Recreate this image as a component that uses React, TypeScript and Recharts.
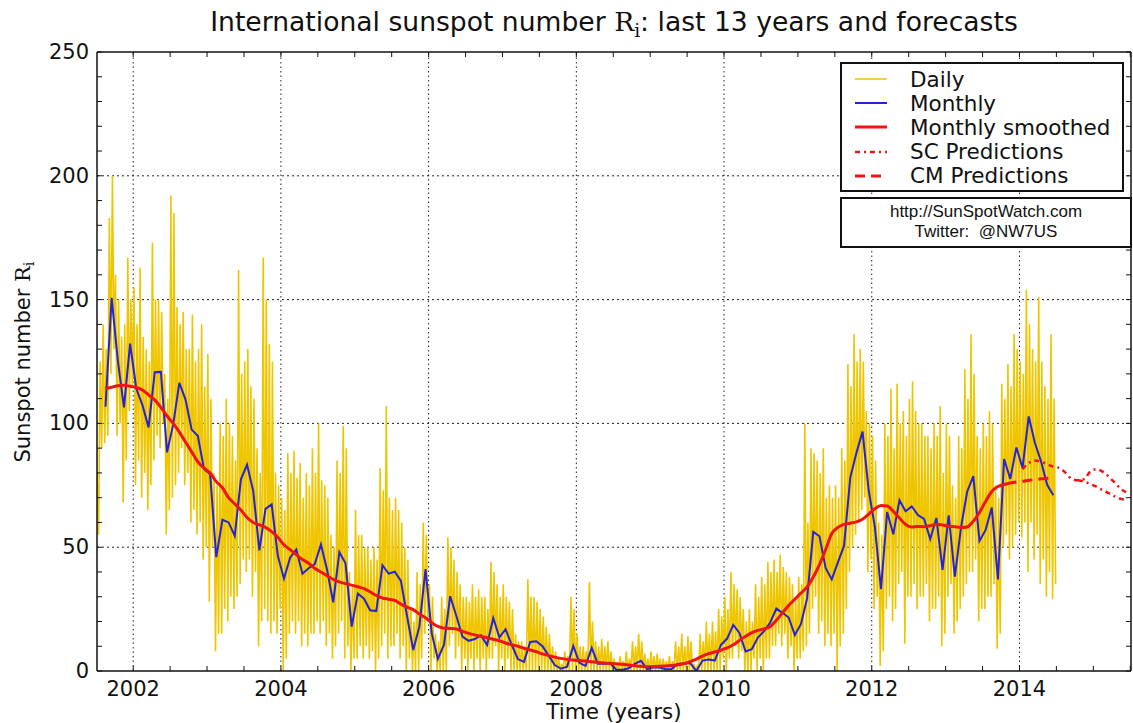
import React from "react";
import { LineChart, Line, XAxis, YAxis, ReferenceLine } from "recharts";

const WIDTH = 1133;
const HEIGHT = 723;
const PLOT_TOP = 52;
const PLOT_LEFT = 97;
const PLOT_RIGHT = 1131;
const PLOT_BOTTOM = 671;

const FONT = "'DejaVu Sans', sans-serif";
const SERIF = "'DejaVu Serif', serif";

const X_DOMAIN: [number, number] = [2001.51, 2015.51];
const Y_DOMAIN: [number, number] = [0, 250];
const X_TICKS = [
  2002, 2002.5, 2003, 2003.5, 2004, 2004.5, 2005, 2005.5, 2006, 2006.5, 2007, 2007.5, 2008, 2008.5,
  2009, 2009.5, 2010, 2010.5, 2011, 2011.5, 2012, 2012.5, 2013, 2013.5, 2014, 2014.5, 2015, 2015.5,
];
const X_LABELS = [2002, 2004, 2006, 2008, 2010, 2012, 2014];
const Y_TICKS = [0, 10, 20, 30, 40, 50, 60, 70, 80, 90, 100, 110, 120, 130, 140, 150, 160, 170, 180, 190, 200, 210, 220, 230, 240, 250];
const Y_LABELS = [0, 50, 100, 150, 200, 250];
const Y_GRID = [50, 100, 150, 200];

// daily readings, 4 per month (peaks and dips), first month noted per year
const daily2001 = [ // from Jul
  80, 55, 125, 90, 140, 92, 130, 95, 183, 120, 200, 130,
  160, 95, 150, 100, 135, 68, 140, 85, 167, 105, 150, 115,
];
const daily2002 = [
  155, 75, 140, 85, 163, 70, 135, 80, 130, 65, 125, 75,
  173, 85, 150, 95, 150, 90, 145, 100, 120, 55, 110, 65,
  192, 70, 185, 75, 147, 80, 140, 90, 145, 75, 130, 80,
  130, 60, 144, 65, 125, 55, 130, 60, 140, 45, 115, 50,
];
const daily2003 = [
  128, 28, 110, 50, 80, 8, 75, 15, 100, 15, 95, 25,
  110, 20, 100, 30, 95, 25, 85, 30, 162, 35, 120, 45,
  125, 40, 130, 45, 115, 30, 110, 40, 90, 10, 80, 20,
  167, 25, 150, 20, 132, 15, 125, 20, 80, 15, 75, 25,
];
const daily2004 = [
  70, 0, 65, 5, 88, 15, 80, 20, 89, 15, 78, 20,
  84, 10, 70, 15, 80, 10, 75, 15, 90, 15, 80, 20,
  100, 15, 77, 20, 75, 10, 70, 15, 55, 5, 50, 10,
  85, 15, 80, 20, 99, 5, 90, 10, 40, 0, 35, 5,
];
const daily2005 = [
  65, 5, 55, 10, 55, 5, 50, 10, 50, 5, 45, 8,
  50, 0, 45, 5, 82, 10, 73, 15, 107, 5, 70, 10,
  65, 10, 70, 15, 65, 5, 60, 10, 50, 0, 45, 5,
  25, 0, 20, 0, 40, 0, 35, 5, 60, 15, 55, 20,
];
const daily2006 = [
  35, 0, 30, 5, 15, 0, 12, 0, 30, 0, 25, 0,
  54, 10, 50, 15, 45, 5, 40, 10, 35, 0, 30, 5,
  30, 0, 28, 5, 35, 0, 30, 5, 33, 0, 30, 5,
  30, 0, 25, 5, 44, 5, 40, 10, 35, 0, 30, 5,
];
const daily2007 = [
  35, 0, 30, 5, 28, 0, 25, 0, 15, 0, 12, 0,
  12, 0, 10, 0, 37, 0, 30, 0, 30, 0, 28, 0,
  25, 0, 22, 0, 18, 0, 15, 0, 10, 0, 8, 0,
  5, 0, 3, 0, 8, 0, 6, 0, 30, 0, 25, 0,
];
const daily2008 = [
  15, 0, 10, 0, 10, 0, 8, 0, 36, 0, 20, 0,
  12, 0, 10, 0, 13, 0, 10, 0, 12, 0, 8, 0,
  5, 0, 3, 0, 6, 0, 4, 0, 8, 0, 5, 0,
  12, 0, 10, 0, 15, 0, 12, 0, 7, 0, 5, 0,
];
const daily2009 = [
  8, 0, 6, 0, 7, 0, 5, 0, 5, 0, 4, 0,
  6, 0, 4, 0, 12, 0, 10, 0, 15, 0, 10, 0,
  14, 0, 12, 0, 3, 0, 2, 0, 15, 0, 12, 0,
  20, 0, 15, 0, 20, 0, 16, 0, 25, 0, 22, 5,
];
const daily2010 = [
  30, 0, 25, 5, 40, 5, 35, 10, 33, 5, 30, 8,
  25, 0, 20, 0, 25, 0, 20, 5, 35, 0, 30, 5,
  38, 0, 35, 5, 44, 5, 40, 10, 45, 10, 40, 15,
  47, 10, 42, 15, 40, 5, 38, 10, 35, 0, 30, 5,
];
const daily2011 = [
  38, 5, 35, 8, 100, 10, 60, 15, 90, 25, 88, 30,
  85, 15, 80, 20, 90, 10, 70, 15, 75, 10, 70, 15,
  75, 0, 70, 10, 90, 15, 85, 25, 124, 40, 115, 50,
  136, 55, 125, 60, 130, 65, 125, 70, 105, 40, 100, 45,
];
const daily2012 = [
  95, 25, 85, 30, 60, 2, 55, 8, 100, 25, 95, 30,
  114, 20, 90, 25, 116, 35, 100, 40, 105, 11, 95, 30,
  110, 30, 117, 35, 105, 25, 100, 30, 100, 30, 95, 35,
  95, 20, 90, 25, 100, 25, 95, 30, 107, 10, 80, 15,
];
const daily2013 = [
  100, 30, 95, 35, 75, 15, 70, 20, 95, 25, 90, 30,
  122, 35, 110, 40, 136, 40, 120, 45, 95, 20, 90, 25,
  100, 25, 95, 30, 105, 30, 100, 35, 75, 9, 70, 15,
  116, 50, 110, 55, 124, 45, 115, 50, 136, 55, 130, 60,
];
const daily2014 = [ // to Jun
  125, 54, 120, 60, 154, 40, 140, 60, 130, 45, 125, 55,
  151, 35, 125, 45, 115, 30, 110, 40, 136, 29, 110, 35,
];

// monthly means
const monthly2001 = [106.7, 150.7, 125.5, 106.5, 132.2]; // from Aug
const monthly2002 = [114.1, 107.4, 98.4, 120.7, 120.8, 88.3, 99.6, 116.4, 109.6, 97.5, 95.0, 81.6];
const monthly2003 = [79.5, 46.0, 61.1, 60.0, 54.6, 77.4, 83.3, 72.7, 48.7, 65.5, 67.3, 46.5];
const monthly2004 = [37.3, 45.8, 49.1, 39.3, 41.5, 43.2, 51.1, 40.9, 27.7, 48.0, 43.5, 17.9];
const monthly2005 = [31.3, 29.2, 24.5, 24.2, 42.7, 39.3, 40.1, 36.4, 22.1, 8.5, 18.0, 41.2];
const monthly2006 = [15.3, 4.9, 10.6, 30.2, 22.3, 13.9, 12.2, 12.9, 14.4, 10.5, 21.4, 13.6];
const monthly2007 = [16.9, 10.6, 4.8, 3.7, 11.7, 12.0, 10.0, 6.2, 2.4, 0.9, 1.7, 10.1];
const monthly2008 = [3.3, 2.1, 9.3, 2.9, 2.9, 3.1, 0.5, 0.5, 1.1, 2.9, 4.1, 0.8];
const monthly2009 = [1.5, 1.4, 0.7, 0.8, 2.9, 2.9, 3.2, 0.0, 4.2, 4.6, 4.2, 10.6];
const monthly2010 = [13.1, 18.6, 15.4, 7.9, 8.8, 13.5, 16.1, 19.6, 25.2, 23.5, 21.6, 14.5];
const monthly2011 = [19.0, 29.4, 56.2, 54.4, 41.6, 37.0, 43.9, 50.6, 78.0, 88.0, 96.7, 73.0];
const monthly2012 = [58.3, 33.1, 64.2, 55.2, 69.0, 64.5, 66.5, 63.0, 61.4, 53.3, 61.8, 40.8];
const monthly2013 = [62.9, 38.1, 57.9, 72.4, 78.7, 52.5, 57.0, 66.0, 37.0, 85.6, 77.6, 90.3];
const monthly2014 = [82.0, 102.8, 92.2, 84.7, 75.2, 71.0];

// 13-month smoothed
const smoothed2001 = [114.2, 114.6, 115.2, 115.4, 115.0]; // from Aug
const smoothed2002 = [114.5, 113.5, 111.5, 109.5, 106.5, 103, 100, 96.5, 92.5, 88.5, 84.5, 82];
const smoothed2003 = [80, 76.5, 74, 70, 67.5, 65, 62, 60, 59, 58, 56.3, 54];
const smoothed2004 = [51, 49, 47, 45, 43.5, 41.5, 40, 38.5, 37, 36, 35.3, 34.7];
const smoothed2005 = [34, 33.3, 32, 30.5, 29.5, 29, 28.5, 27, 25.8, 24.8, 23, 21.5];
const smoothed2006 = [19.5, 18, 17.3, 17.2, 17, 16, 15.2, 14.6, 14, 13.4, 12.8, 12.2];
const smoothed2007 = [11.3, 10.6, 10, 9.2, 8.5, 7.8, 6.9, 6.2, 5.6, 5.1, 4.7, 4.4];
const smoothed2008 = [4.2, 4.0, 3.7, 3.4, 3.2, 3.1, 2.9, 2.7, 2.4, 2.1, 1.9, 1.7];
const smoothed2009 = [1.8, 1.9, 2.0, 2.2, 2.5, 3.0, 3.8, 4.8, 6.0, 7.0, 7.7, 8.4];
const smoothed2010 = [9.3, 10.6, 12.3, 14.0, 15.5, 16.4, 17.0, 18.0, 20.5, 23.5, 26.5, 29.0];
const smoothed2011 = [31.5, 34.0, 38.0, 43.0, 49.0, 55.5, 58, 59.2, 59.7, 60.2, 61.3, 63.4];
const smoothed2012 = [65.5, 66.8, 66.6, 64.5, 61.8, 59.2, 58.2, 58.4, 58.3, 58.7, 59.3, 59.0];
const smoothed2013 = [58.5, 58.3, 58.0, 58.2, 60.5, 64.0, 68.5, 72.5, 74.5, 75.3, 75.9, 76.3];

// forecasts
const cmPrediction2014 = [76.5, 77, 77.3, 77.6, 77.8, 78]; // Jan-Jun 2014
const scPrediction = [81.5, 84, 85, 84.5, 83.5, 82.5, 82, 80, 77.5, 77, 77.5, 80.5, 81.5, 80.5, 78.5, 76, 73.5, 72]; // Jan 2014 - Jun 2015
const scPredictionLow = [77, 76.5, 75.5, 74.5, 73, 71.8, 70.5, 69.5, 69]; // Oct 2014 - Jun 2015

type Pt = { t: number; v: number };
const PER_MONTH = 4;

const dailyPoints = (year: number, firstMonth: number, vals: number[]): Pt[] =>
  vals.map((v, i) => {
    const month = firstMonth + Math.floor(i / PER_MONTH);
    const slot = i % PER_MONTH;
    return { t: year + (month - 1) / 12 + (slot + 0.5) / (12 * PER_MONTH), v };
  });

const monthlyPoints = (year: number, firstMonth: number, vals: number[]): Pt[] =>
  vals.map((v, i) => ({ t: year + (firstMonth + i - 0.5) / 12, v }));

const dailyData = [
  ...dailyPoints(2001, 7, daily2001),
  ...dailyPoints(2002, 1, daily2002),
  ...dailyPoints(2003, 1, daily2003),
  ...dailyPoints(2004, 1, daily2004),
  ...dailyPoints(2005, 1, daily2005),
  ...dailyPoints(2006, 1, daily2006),
  ...dailyPoints(2007, 1, daily2007),
  ...dailyPoints(2008, 1, daily2008),
  ...dailyPoints(2009, 1, daily2009),
  ...dailyPoints(2010, 1, daily2010),
  ...dailyPoints(2011, 1, daily2011),
  ...dailyPoints(2012, 1, daily2012),
  ...dailyPoints(2013, 1, daily2013),
  ...dailyPoints(2014, 1, daily2014),
];

const monthlyData = [
  ...monthlyPoints(2001, 8, monthly2001),
  ...monthlyPoints(2002, 1, monthly2002),
  ...monthlyPoints(2003, 1, monthly2003),
  ...monthlyPoints(2004, 1, monthly2004),
  ...monthlyPoints(2005, 1, monthly2005),
  ...monthlyPoints(2006, 1, monthly2006),
  ...monthlyPoints(2007, 1, monthly2007),
  ...monthlyPoints(2008, 1, monthly2008),
  ...monthlyPoints(2009, 1, monthly2009),
  ...monthlyPoints(2010, 1, monthly2010),
  ...monthlyPoints(2011, 1, monthly2011),
  ...monthlyPoints(2012, 1, monthly2012),
  ...monthlyPoints(2013, 1, monthly2013),
  ...monthlyPoints(2014, 1, monthly2014),
];

const smoothedData = [
  ...monthlyPoints(2001, 8, smoothed2001),
  ...monthlyPoints(2002, 1, smoothed2002),
  ...monthlyPoints(2003, 1, smoothed2003),
  ...monthlyPoints(2004, 1, smoothed2004),
  ...monthlyPoints(2005, 1, smoothed2005),
  ...monthlyPoints(2006, 1, smoothed2006),
  ...monthlyPoints(2007, 1, smoothed2007),
  ...monthlyPoints(2008, 1, smoothed2008),
  ...monthlyPoints(2009, 1, smoothed2009),
  ...monthlyPoints(2010, 1, smoothed2010),
  ...monthlyPoints(2011, 1, smoothed2011),
  ...monthlyPoints(2012, 1, smoothed2012),
  ...monthlyPoints(2013, 1, smoothed2013),
];

const cmData = monthlyPoints(2014, 1, cmPrediction2014);
const scData = monthlyPoints(2014, 1, scPrediction);
const scLowData = monthlyPoints(2014, 10, scPredictionLow);

const YELLOW = "#efc500";
const BLUE = "#2424d6";
const RED = "#f01414";
const SC_DASH = "5 4 2 4";
const CM_DASH = "10 6";
const TICK_LEN = 5;

const XTick = (props: any) => {
  const { x, payload } = props;
  const v = payload.value;
  return (
    <g>
      <line x1={x} x2={x} y1={PLOT_BOTTOM} y2={PLOT_BOTTOM - TICK_LEN} stroke="#111" />
      <line x1={x} x2={x} y1={PLOT_TOP} y2={PLOT_TOP + TICK_LEN} stroke="#111" />
      {X_LABELS.includes(v) && (
        <text x={x} y={PLOT_BOTTOM + 18} textAnchor="middle" dominantBaseline="central" fontFamily={FONT} fontSize={21} fill="#111">
          {v}
        </text>
      )}
    </g>
  );
};

const YTick = (props: any) => {
  const { y, payload } = props;
  const v = payload.value;
  return (
    <g>
      <line x1={PLOT_LEFT} x2={PLOT_LEFT + TICK_LEN} y1={y} y2={y} stroke="#111" />
      <line x1={PLOT_RIGHT} x2={PLOT_RIGHT - TICK_LEN} y1={y} y2={y} stroke="#111" />
      {Y_LABELS.includes(v) && (
        <text x={PLOT_LEFT - 8} y={y} textAnchor="end" dominantBaseline="central" fontFamily={FONT} fontSize={21} fill="#111">
          {v}
        </text>
      )}
    </g>
  );
};

const Ri = () => (
  <span style={{ fontFamily: SERIF }}>
    R<span style={{ fontSize: "0.7em", position: "relative", top: "0.3em" }}>i</span>
  </span>
);

const LEGEND_ROWS = [
  { label: "Daily", color: YELLOW, width: 1.5, dash: undefined },
  { label: "Monthly", color: BLUE, width: 2, dash: undefined },
  { label: "Monthly smoothed", color: RED, width: 3, dash: undefined },
  { label: "SC Predictions", color: RED, width: 2.5, dash: SC_DASH },
  { label: "CM Predictions", color: RED, width: 3, dash: CM_DASH },
];

export default function App() {
  return (
    <div style={{ position: "absolute", left: 0, top: 0, width: WIDTH, height: HEIGHT, background: "#fff", overflow: "hidden" }}>
      <LineChart width={WIDTH} height={HEIGHT} margin={{ top: PLOT_TOP, right: WIDTH - PLOT_RIGHT, bottom: 0, left: 0 }}>
        <XAxis
          type="number"
          dataKey="t"
          domain={X_DOMAIN}
          allowDataOverflow
          ticks={X_TICKS}
          interval={0}
          tickSize={0}
          tickMargin={0}
          tickLine={false}
          tick={<XTick />}
          height={HEIGHT - PLOT_BOTTOM}
          axisLine={{ stroke: "#111", strokeWidth: 1.5 }}
        />
        <YAxis
          type="number"
          domain={Y_DOMAIN}
          allowDataOverflow
          ticks={Y_TICKS}
          interval={0}
          tickSize={0}
          tickMargin={0}
          tickLine={false}
          tick={<YTick />}
          width={PLOT_LEFT}
          axisLine={{ stroke: "#111", strokeWidth: 1.5 }}
        />
        {X_LABELS.map((v) => (
          <ReferenceLine key={"gx" + v} x={v} stroke="#222" strokeDasharray="1.5 3" strokeWidth={1} />
        ))}
        {Y_GRID.map((v) => (
          <ReferenceLine key={"gy" + v} y={v} stroke="#222" strokeDasharray="2 3" strokeWidth={1} />
        ))}
        <ReferenceLine y={250} stroke="#111" strokeWidth={1.5} />
        <ReferenceLine x={X_DOMAIN[1]} stroke="#111" strokeWidth={1.5} />
        <Line data={dailyData} dataKey="v" type="linear" stroke={YELLOW} strokeWidth={1.6} dot={false} isAnimationActive={false} />
        <Line data={monthlyData} dataKey="v" type="linear" stroke={BLUE} strokeWidth={2} dot={false} isAnimationActive={false} />
        <Line data={smoothedData} dataKey="v" type="monotone" stroke={RED} strokeWidth={3} dot={false} isAnimationActive={false} />
        <Line data={cmData} dataKey="v" type="monotone" stroke={RED} strokeWidth={3} strokeDasharray={CM_DASH} dot={false} isAnimationActive={false} />
        <Line data={scData} dataKey="v" type="monotone" stroke={RED} strokeWidth={2.5} strokeDasharray={SC_DASH} dot={false} isAnimationActive={false} />
        <Line data={scLowData} dataKey="v" type="monotone" stroke={RED} strokeWidth={2.5} strokeDasharray={SC_DASH} dot={false} isAnimationActive={false} />
      </LineChart>

      <div style={{ position: "absolute", left: PLOT_LEFT, width: PLOT_RIGHT - PLOT_LEFT, top: 6, textAlign: "center", fontFamily: FONT, fontSize: 26.6, lineHeight: "32px", color: "#111", whiteSpace: "nowrap" }}>
        International sunspot number <Ri />: last 13 years and forecasts
      </div>

      <div style={{ position: "absolute", left: 24, top: 362, transform: "translate(-50%, -50%) rotate(-90deg)", fontFamily: FONT, fontSize: 21, color: "#111", whiteSpace: "nowrap", lineHeight: "26px" }}>
        Sunspot number <Ri />
      </div>

      <div style={{ position: "absolute", left: PLOT_LEFT, width: PLOT_RIGHT - PLOT_LEFT, top: 702, textAlign: "center", fontFamily: FONT, fontSize: 21.5, lineHeight: "20px", color: "#111" }}>
        Time (years)
      </div>

      <div style={{ position: "absolute", left: 840, top: 62, width: 284, height: 130, boxSizing: "border-box", border: "2px solid #111", background: "#fff" }}>
        {LEGEND_ROWS.map((row, i) => (
          <div key={row.label} style={{ position: "absolute", left: 0, top: 3 + i * 24.2, height: 24, display: "flex", alignItems: "center" }}>
            <svg width={32} height={10} style={{ marginLeft: 13 }}>
              <line x1={0} x2={32} y1={5} y2={5} stroke={row.color} strokeWidth={row.width} strokeDasharray={row.dash} />
            </svg>
            <span style={{ marginLeft: 23, fontFamily: FONT, fontSize: 21.5, color: "#111", whiteSpace: "nowrap" }}>{row.label}</span>
          </div>
        ))}
      </div>

      <div style={{ position: "absolute", left: 840, top: 197, width: 292, height: 51, boxSizing: "border-box", border: "2px solid #111", background: "#fff", textAlign: "center", fontFamily: "'Liberation Sans', Arial, sans-serif", fontSize: 17, color: "#111", lineHeight: "20px", paddingTop: 3 }}>
        <div>http://SunSpotWatch.com</div>
        <div>Twitter:&nbsp;&nbsp;@NW7US</div>
      </div>
    </div>
  );
}
